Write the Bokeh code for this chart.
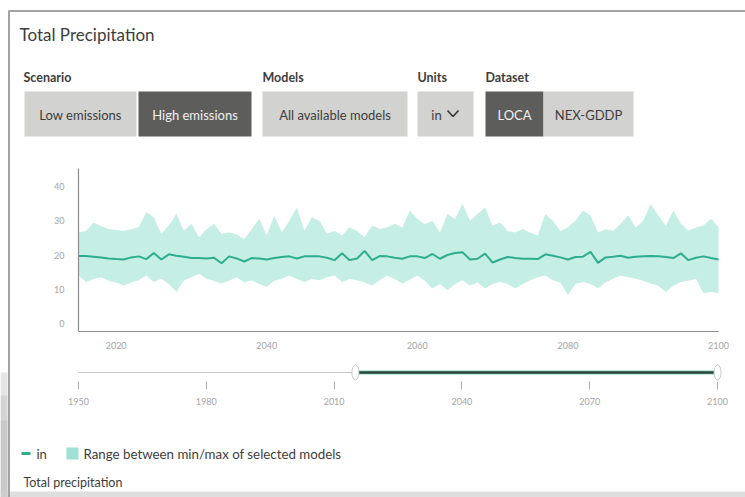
from bokeh.plotting import figure
from bokeh.models import Range1d, LinearAxis, FixedTicker
from bokeh.core.properties import value
from bokeh.embed import file_html
from bokeh.resources import INLINE

# ---------------- data ----------------
years = list(range(2015, 2101))
mean_in = [19.7, 19.7, 19.5, 19.3, 19.0, 18.8, 18.7, 19.3, 19.6, 18.8,
           20.6, 18.7, 20.2, 19.8, 19.5, 19.1, 19.1, 19.0, 19.2, 17.6,
           19.6, 19.0, 18.1, 19.1, 19.0, 18.7, 19.1, 19.4, 19.6, 19.0,
           19.6, 19.6, 19.6, 19.2, 18.5, 20.5, 18.5, 19.0, 21.2, 18.5,
           19.7, 19.6, 19.2, 18.9, 19.6, 19.6, 19.1, 20.3, 18.9, 20.0,
           20.6, 20.8, 18.7, 18.9, 20.4, 17.8, 18.7, 19.4, 19.1, 18.9,
           18.9, 18.8, 20.2, 19.8, 19.3, 18.7, 19.4, 19.5, 20.9, 17.7,
           19.3, 19.5, 19.8, 19.2, 19.5, 19.6, 19.7, 19.6, 19.4, 19.1,
           20.5, 18.5, 19.2, 19.6, 19.1, 18.7]
max_in = [26.6, 27.0, 29.5, 28.5, 27.6, 27.3, 27.1, 27.5, 28.1, 32.5,
          31.0, 26.2, 28.6, 32.0, 27.1, 29.1, 25.2, 27.5, 29.1, 26.2,
          26.6, 26.0, 24.7, 27.5, 30.6, 25.7, 31.5, 26.6, 30.0, 33.9,
          27.1, 31.0, 30.0, 26.2, 27.0, 25.7, 28.1, 27.0, 25.2, 28.6,
          27.6, 28.1, 29.1, 28.0, 33.0, 30.6, 29.0, 30.0, 26.6, 32.0,
          30.5, 34.9, 30.0, 32.0, 33.9, 28.6, 29.5, 27.0, 26.6, 27.6,
          26.5, 25.7, 32.0, 30.0, 27.0, 28.1, 30.0, 33.0, 31.5, 26.6,
          27.5, 27.1, 29.1, 31.5, 28.0, 30.0, 34.9, 31.5, 28.5, 33.0,
          29.1, 27.1, 28.0, 28.6, 30.6, 28.1]
min_in = [14.0, 12.1, 13.0, 13.5, 12.5, 12.0, 11.1, 12.0, 12.6, 14.0,
          12.1, 13.1, 11.5, 9.2, 12.6, 13.5, 14.5, 13.1, 12.4, 11.7,
          12.5, 13.5, 12.0, 12.6, 11.5, 10.7, 12.5, 13.1, 14.0, 13.0,
          12.1, 13.0, 12.6, 13.5, 14.0, 12.1, 13.0, 12.6, 12.0, 11.1,
          12.6, 14.0, 13.0, 11.7, 12.8, 14.0, 12.5, 10.2, 11.5, 9.7,
          11.5, 12.6, 11.1, 12.0, 10.2, 11.5, 12.1, 11.5, 10.2, 11.5,
          12.6, 13.5, 14.0, 12.6, 12.0, 8.3, 11.5, 12.1, 11.5, 10.2,
          12.0, 13.1, 14.0, 13.5, 13.1, 12.5, 11.7, 11.0, 9.2, 11.0,
          12.1, 12.5, 13.1, 8.8, 9.2, 8.8]
y_ticks = [0, 10, 20, 30, 40]
x_ticks = [2020, 2040, 2060, 2080, 2100]
slider_ticks = [1950, 1980, 2010, 2040, 2070, 2100]
slider_full = [1950, 2100]
slider_sel = [2015, 2100]

title_text = "Total Precipitation"
group_labels = ["Scenario", "Models", "Units", "Dataset"]
button_labels = ["Low emissions", "High emissions", "All available models", "in", "LOCA", "NEX-GDDP"]
button_active = [False, True, False, False, True, False]
legend_line_label = "in"
legend_band_label = "Range between min/max of selected models"
footer_text = "Total precipitation"

# ---------------- layout (page pixels) ----------------
W, H = 745, 497
PX0, PY0 = 0, 0
chart_left, chart_right = 78, 718
chart_top, chart_bottom = 168, 331
y0_px, y40_px = 323, 186
sl_left, sl_right = 78, 717

xs = (chart_right - chart_left) / (years[-1] - years[0])
x_start = years[0] - (chart_left - PX0) / xs
x_end = years[-1] + (PX0 + W - chart_right) / xs
ys = (y0_px - y40_px) / 40.0
y_start = -(PY0 + H - y0_px) / ys
y_end = (y0_px - PY0) / ys
axis_y_val = -(chart_bottom - y0_px) / ys
axis_top_val = (y0_px - chart_top) / ys
ss = (sl_right - sl_left) / (slider_full[1] - slider_full[0])
sl_start = slider_full[0] - (sl_left - PX0) / ss
sl_end = slider_full[1] + (PX0 + W - sl_right) / ss

FONT = "Lato"
TXT = "#3d3d3d"
TEAL = "#2eae8e"
BAND = "#9fe2d3"

p = figure(width=W, height=H, x_range=Range1d(x_start, x_end),
           y_range=Range1d(y_start, y_end), x_axis_type=None, y_axis_type=None,
           toolbar_location=None, output_backend="svg", min_border=0)
p.outline_line_color = None
p.background_fill_color = "white"
p.border_fill_color = "white"
p.extra_x_ranges = {"px": Range1d(PX0, PX0 + W), "sl": Range1d(sl_start, sl_end)}
p.extra_y_ranges = {"px": Range1d(PY0 + H, PY0)}

PXR = dict(x_range_name="px", y_range_name="px")

# drop shadow of the panel (screenshot look)
p.quad(left=[0, 0, 0], right=[7, 7, 7], top=[372, 395, 420], bottom=[497, 497, 497],
       fill_color="#b4b4b4", fill_alpha=0.35, line_color=None, **PXR)
p.quad(left=[0], right=[745], top=[491], bottom=[497], fill_color="#d0d0d0",
       fill_alpha=0.7, line_color=None, **PXR)

# panel border
p.line(x=[8.5, 8.5, 745], y=[497, 10.5, 10.5], line_color="#a3a3a3", line_width=2, **PXR)

# title
p.text(x=[19], y=[34], text=[title_text], text_font=value(FONT), text_font_size="17px",
       text_color=TXT, text_baseline="middle", **PXR)

# group labels
gl_x = [23, 262, 417, 485]
p.text(x=gl_x, y=[77] * 4, text=group_labels, text_font=value(FONT), text_font_size="12.5px",
       text_font_style="bold", text_color=TXT, text_baseline="middle", **PXR)

# buttons
b_left = [24, 138, 262, 417, 485, 543]
b_right = [136, 251, 407, 473, 543, 633]
b_fill = ["#5d5d5b" if a else "#d2d2d0" for a in button_active]
b_tc = ["#f0f0f0" if a else TXT for a in button_active]
p.quad(left=b_left, right=b_right, top=[91] * 6, bottom=[136] * 6, fill_color=b_fill,
       line_color=None, **PXR)
b_cx = [(l + r) / 2 for l, r in zip(b_left, b_right)]
b_cx[3] = 436
p.text(x=b_cx, y=[114] * 6, text=button_labels, text_font=value(FONT), text_font_size="13px",
       text_color=b_tc, text_align="center", text_baseline="middle", **PXR)
# chevron in units button
p.line(x=[447, 452.5, 458], y=[110, 116, 110], line_color=TXT, line_width=1.8, **PXR)

# chart band and line
p.varea(x=years, y1=min_in, y2=max_in, fill_color=BAND, fill_alpha=0.6)
p.line(x=years, y=mean_in, line_color=TEAL, line_width=2)

# chart axes
xaxis = LinearAxis(fixed_location=axis_y_val, bounds=(years[0], years[-1]),
                   ticker=FixedTicker(ticks=x_ticks))
yaxis = LinearAxis(fixed_location=years[0], bounds=(axis_y_val, axis_top_val),
                   ticker=FixedTicker(ticks=y_ticks))
for ax in (xaxis, yaxis):
    ax.axis_line_color = "#8c8c8c"
    ax.axis_line_width = 1.2
    ax.major_tick_line_color = None
    ax.minor_tick_line_color = None
    ax.major_label_text_font = FONT
    ax.major_label_text_font_size = "9px"
    ax.major_label_text_color = "#a5a5a5"
xaxis.major_label_standoff = 4
yaxis.major_label_standoff = 8
p.add_layout(xaxis, "below")
p.add_layout(yaxis, "left")

# slider
SL = dict(x_range_name="sl", y_range_name="px")
p.line(x=[slider_full[0], slider_sel[0]], y=[372, 372], line_color="#c4c4c4", line_width=1.2, **SL)
p.line(x=slider_sel, y=[372, 372], line_color="#7fcfb8", line_width=5, line_alpha=0.5, **SL)
p.line(x=slider_sel, y=[372, 372], line_color="#1f4536", line_width=2.5, **SL)
p.ellipse(x=slider_sel, y=[372, 372], width=7, height=15, width_units="screen",
          height_units="screen", fill_color="white", line_color="#c8c8c8", line_width=1, **SL)
saxis = LinearAxis(x_range_name="sl", y_range_name="px", fixed_location=381,
                   ticker=FixedTicker(ticks=slider_ticks))
saxis.axis_line_color = None
saxis.major_tick_in = 0
saxis.major_tick_out = 8
saxis.major_tick_line_color = "#b0b0b0"
saxis.minor_tick_line_color = None
saxis.major_label_text_font = FONT
saxis.major_label_text_font_size = "9px"
saxis.major_label_text_color = "#a5a5a5"
saxis.major_label_standoff = 8
p.add_layout(saxis, "below")

# legend
p.line(x=[21, 30], y=[453, 453], line_color=TEAL, line_width=3, **PXR)
p.text(x=[36], y=[453], text=[legend_line_label], text_font=value(FONT), text_font_size="13px",
       text_color=TXT, text_baseline="middle", **PXR)
p.quad(left=[66], right=[78], top=[447], bottom=[459], fill_color=BAND, line_color=None, **PXR)
p.text(x=[83], y=[453], text=[legend_band_label], text_font=value(FONT), text_font_size="13.3px",
       text_color=TXT, text_baseline="middle", **PXR)
p.text(x=[23], y=[482], text=[footer_text], text_font=value(FONT), text_font_size="12.5px",
       text_color=TXT, text_baseline="middle", **PXR)

open("out.html", "w").write(file_html(p, INLINE))
